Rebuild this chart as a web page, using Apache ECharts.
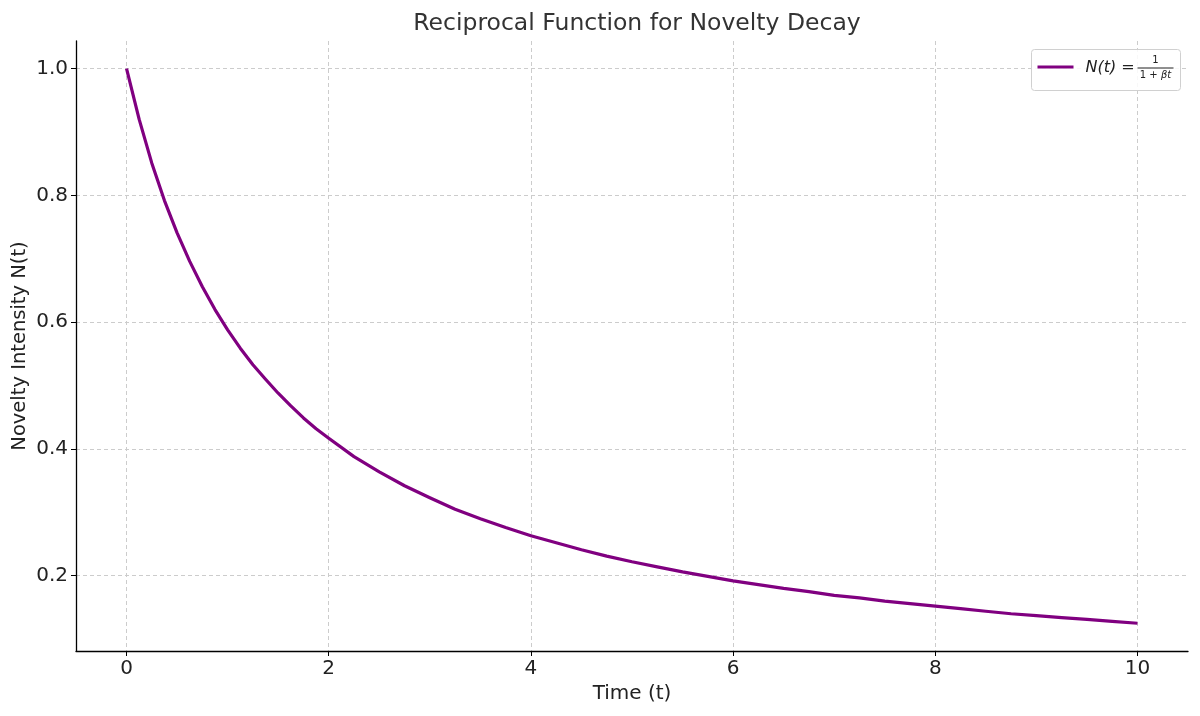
<!DOCTYPE html>
<html>
<head>
<meta charset="utf-8">
<script src="https://cdn.jsdelivr.net/npm/echarts@6/dist/echarts.min.js"></script>
<style>
  html, body { margin: 0; padding: 0; background: #fff; }
  #chart { width: 1200px; height: 716px; }
</style>
</head>
<body>
<div id="chart"></div>
<script>
// values
var times = [0, 0.125, 0.25, 0.375, 0.5, 0.625, 0.75, 0.875, 1, 1.125, 1.25, 1.375, 1.5, 1.625, 1.75, 1.875,
  2, 2.25, 2.5, 2.75, 3, 3.25, 3.5, 3.75,
  4, 4.25, 4.5, 4.75, 5, 5.25, 5.5, 5.75, 6, 6.25, 6.5, 6.75, 7, 7.25, 7.5, 7.75,
  8, 8.25, 8.5, 8.75, 9, 9.25, 9.5, 9.75, 10];
var novelty = [1.000, 0.920, 0.851, 0.792, 0.741, 0.696, 0.656, 0.620, 0.588, 0.559, 0.533, 0.510,
  0.488, 0.468, 0.449, 0.432, 0.417, 0.388, 0.364, 0.342,
  0.323, 0.305, 0.290, 0.276, 0.263, 0.252, 0.241, 0.231, 0.222, 0.214, 0.206, 0.199,
  0.192, 0.186, 0.180, 0.175, 0.169, 0.165, 0.160, 0.156, 0.152, 0.148, 0.144, 0.140,
  0.137, 0.134, 0.131, 0.128, 0.125];
var xTicks = [0, 2, 4, 6, 8, 10];
var yTicks = [0.2, 0.4, 0.6, 0.8, 1.0];

var font = 'DejaVu Sans';
var points = times.map(function (t, i) { return [t, novelty[i]]; });

var chart = echarts.init(document.getElementById('chart'));
chart.setOption({
  animation: false,
  backgroundColor: '#fff',
  title: {
    text: 'Reciprocal Function for Novelty Decay',
    left: 632,
    textAlign: 'center',
    top: 7,
    textStyle: { fontFamily: font, fontSize: 23.5, fontWeight: 'normal', color: '#333' }
  },
  grid: { left: 76, right: 12, top: 41, bottom: 65, outerBoundsMode: 'none' },
  xAxis: {
    type: 'value',
    min: -0.5,
    max: 10.5,
    name: 'Time (t)',
    nameLocation: 'middle',
    nameGap: 32,
    nameTextStyle: { fontFamily: font, fontSize: 20, color: '#222' },
    axisLine: { onZero: false, lineStyle: { color: '#000', width: 1.3 } },
    axisTick: { show: true, length: 5, customValues: xTicks, lineStyle: { color: '#000' } },
    axisLabel: { customValues: xTicks, fontFamily: font, fontSize: 20, color: '#222', margin: 8 },
    splitLine: { show: true, lineStyle: { color: '#cccccc', type: [4, 3], width: 1 } }
  },
  yAxis: {
    type: 'value',
    min: 0.08125,
    max: 1.04375,
    name: 'Novelty Intensity N(t)',
    nameLocation: 'middle',
    nameGap: 46,
    nameMoveOverlap: false,
    nameTextStyle: { fontFamily: font, fontSize: 19.5, color: '#222' },
    axisLine: { show: true, onZero: false, lineStyle: { color: '#000', width: 1.3 } },
    axisTick: { show: true, length: 5, customValues: yTicks, lineStyle: { color: '#000' } },
    axisLabel: {
      customValues: yTicks, fontFamily: font, fontSize: 20, color: '#222', margin: 8,
      formatter: function (v) { return v.toFixed(1); }
    },
    splitLine: { show: true, lineStyle: { color: '#cccccc', type: [4, 3], width: 1 } }
  },
  series: [{
    name: 'N(t)',
    type: 'line',
    data: points,
    showSymbol: false,
    smooth: false,
    lineStyle: { color: '#800080', width: 3.2, join: 'round' },
    itemStyle: { color: '#800080' }
  }],
  graphic: [{
    type: 'group',
    left: 1031,
    top: 49,
    z: 100,
    children: [
      { type: 'rect', z: 100, shape: { x: 0, y: 0, width: 149, height: 41, r: 3 },
        style: { fill: 'rgba(255,255,255,0.85)', stroke: '#d0d0d0', lineWidth: 1 } },
      { type: 'rect', z: 101, shape: { x: 6, y: 16, width: 36, height: 3 },
        style: { fill: '#800080', stroke: null } },
      { type: 'text', z: 101, x: 54, y: 18,
        style: { text: 'N(t) =', font: 'italic 16px "DejaVu Sans"', fill: '#222', verticalAlign: 'middle' } },
      { type: 'text', z: 101, x: 124, y: 11,
        style: { text: '1', font: '10px "DejaVu Sans"', fill: '#222', align: 'center', verticalAlign: 'middle' } },
      { type: 'rect', z: 101, shape: { x: 106, y: 18, width: 36, height: 1 },
        style: { fill: '#222', stroke: null } },
      { type: 'text', z: 101, x: 124, y: 26,
        style: {
          text: '{n|1 + }{i|βt}', align: 'center', verticalAlign: 'middle',
          rich: {
            n: { fontFamily: font, fontSize: 10, fill: '#222' },
            i: { fontFamily: font, fontSize: 10, fontStyle: 'italic', fill: '#222' }
          }
        } }
    ]
  }]
});
</script>
</body>
</html>
